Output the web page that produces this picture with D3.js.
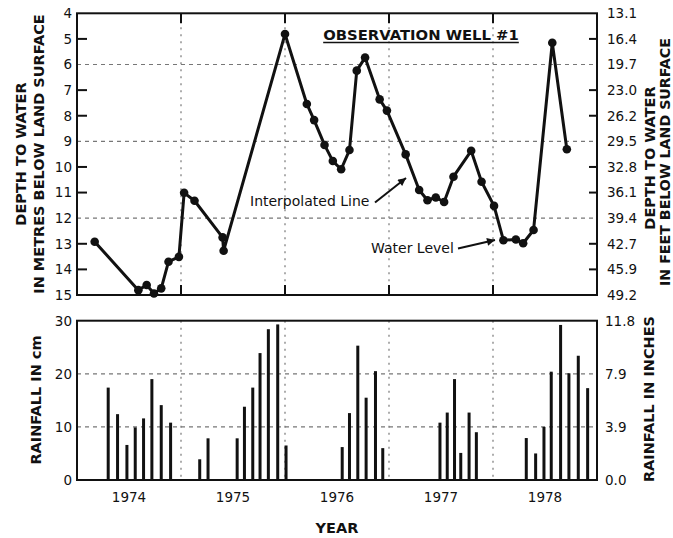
<!DOCTYPE html>
<html>
<head>
<meta charset="utf-8">
<script src="https://cdn.jsdelivr.net/npm/d3@7"></script>
<style>
  html, body { margin: 0; padding: 0; background: #fff; }
  text { font-family: "DejaVu Sans", Verdana, sans-serif; fill: #111; }
  .bold { font-weight: bold; }
</style>
</head>
<body>
<div id="chart"></div>
<script>
// year labels sit in the middle of each year
const yearLabels = ["1974", "1975", "1976", "1977", "1978"];
const yearBounds = [1975, 1976, 1977, 1978];

// well depth (metres below land surface)
const wellDate = [1974.17, 1974.59, 1974.67, 1974.74, 1974.81, 1974.88, 1974.98,
  1975.03, 1975.13, 1975.40, 1975.41, 1976.00, 1976.21, 1976.28, 1976.38,
  1976.46, 1976.54, 1976.62, 1976.69, 1976.77, 1976.91, 1976.98, 1977.16,
  1977.29, 1977.37, 1977.45, 1977.53, 1977.62, 1977.79, 1977.89, 1978.01,
  1978.10, 1978.22, 1978.29, 1978.39, 1978.57, 1978.71];
const wellDepth = [12.92, 14.81, 14.61, 14.94, 14.74, 13.70, 13.51,
  11.01, 11.32, 12.75, 13.27, 4.81, 7.54, 8.17, 9.14,
  9.77, 10.09, 9.34, 6.24, 5.73, 7.36, 7.80, 9.51,
  10.90, 11.30, 11.19, 11.37, 10.38, 9.37, 10.58, 11.52,
  12.86, 12.83, 12.98, 12.46, 5.15, 9.31];

// monthly rainfall (cm)
const rainDate = [1974.30, 1974.39, 1974.48, 1974.56, 1974.64, 1974.72, 1974.81, 1974.90,
  1975.18, 1975.26, 1975.54, 1975.61, 1975.69, 1975.76, 1975.84, 1975.93, 1976.01,
  1976.55, 1976.62, 1976.70, 1976.78, 1976.87, 1976.94,
  1977.49, 1977.56, 1977.63, 1977.69, 1977.77, 1977.84,
  1978.32, 1978.41, 1978.49, 1978.56, 1978.65, 1978.73, 1978.82, 1978.91];
const rainCm = [17.4, 12.4, 6.6, 9.9, 11.6, 19.0, 14.1, 10.8,
  3.9, 7.85, 7.85, 13.8, 17.4, 23.9, 28.4, 29.3, 6.5,
  6.2, 12.6, 25.3, 15.5, 20.5, 6.0,
  10.8, 12.7, 19.0, 5.1, 12.7, 9.0,
  7.9, 5.0, 10.0, 20.4, 29.2, 20.1, 23.4, 17.3];

const depthTicks = [4, 5, 6, 7, 8, 9, 10, 11, 12, 13, 14, 15];
const feetLabels = ["13.1", "16.4", "19.7", "23.0", "26.2", "29.5", "32.8", "36.1", "39.4", "42.7", "45.9", "49.2"];
const depthGrid = [6, 9, 12];
const rainTicks = [0, 10, 20, 30];
const inchLabels = ["0.0", "3.9", "7.9", "11.8"];
const rainGrid = [10, 20];

const W = 673, H = 538;
const L = 77, R = 597;
const top1 = 13.3, bot1 = 295;
const top2 = 320.7, bot2 = 480;

const svg = d3.select("#chart").append("svg")
  .attr("width", W).attr("height", H);

const x = d3.scaleLinear().domain([1974, 1979]).range([L, R]);
const yDepth = d3.scaleLinear().domain([4, 15]).range([top1, bot1]);
const yRain = d3.scaleLinear().domain([0, 30]).range([bot2, top2]);

svg.append("defs").append("marker")
  .attr("id", "arrow")
  .attr("viewBox", "0 0 10 10")
  .attr("refX", 10).attr("refY", 5)
  .attr("markerWidth", 12).attr("markerHeight", 8)
  .attr("markerUnits", "userSpaceOnUse")
  .attr("orient", "auto")
  .append("path").attr("d", "M0,0 L10,5 L0,10 Z").attr("fill", "#111");

/* ---------- well level panel ---------- */
let g1 = svg.append("g");

// gridlines
g1.selectAll(".hgrid").data(depthGrid).enter().append("line")
  .attr("x1", L).attr("x2", R)
  .attr("y1", d => yDepth(d)).attr("y2", d => yDepth(d))
  .attr("stroke", "#777").attr("stroke-width", 1.2)
  .attr("stroke-dasharray", "4,4");
g1.selectAll(".vgrid").data(yearBounds).enter().append("line")
  .attr("x1", d => x(d)).attr("x2", d => x(d))
  .attr("y1", top1).attr("y2", bot1)
  .attr("stroke", "#777").attr("stroke-width", 1.2)
  .attr("stroke-dasharray", "2,5");

// inner ticks, left and right
let tickDepths = depthTicks.filter(d => !depthGrid.includes(d) && d !== 4 && d !== 15);
g1.selectAll(".tl").data(tickDepths).enter().append("line")
  .attr("x1", L).attr("x2", L + 10)
  .attr("y1", d => yDepth(d)).attr("y2", d => yDepth(d))
  .attr("stroke", "#111").attr("stroke-width", 2);
g1.selectAll(".tr").data(tickDepths).enter().append("line")
  .attr("x1", R - 8).attr("x2", R)
  .attr("y1", d => yDepth(d)).attr("y2", d => yDepth(d))
  .attr("stroke", "#111").attr("stroke-width", 2);
// year ticks on top and bottom edges
g1.selectAll(".tt").data(yearBounds).enter().append("line")
  .attr("x1", d => x(d)).attr("x2", d => x(d))
  .attr("y1", top1).attr("y2", top1 + 10)
  .attr("stroke", "#111").attr("stroke-width", 2);
g1.selectAll(".tb").data(yearBounds).enter().append("line")
  .attr("x1", d => x(d)).attr("x2", d => x(d))
  .attr("y1", bot1 - 10).attr("y2", bot1)
  .attr("stroke", "#111").attr("stroke-width", 2);

g1.append("rect")
  .attr("x", L).attr("y", top1)
  .attr("width", R - L).attr("height", bot1 - top1)
  .attr("fill", "none").attr("stroke", "#111").attr("stroke-width", 2);

// tick labels
g1.selectAll(".ll").data(depthTicks).enter().append("text")
  .attr("x", L - 5).attr("y", d => yDepth(d)).attr("dy", "0.36em")
  .attr("text-anchor", "end").style("font-size", "13.5px")
  .text(d => d);
g1.selectAll(".rl").data(depthTicks).enter().append("text")
  .attr("x", R + 10).attr("y", d => yDepth(d)).attr("dy", "0.36em")
  .style("font-size", "13.5px")
  .text((d, i) => feetLabels[i]);

// the line and points
let pts = wellDate.map((d, i) => [d, wellDepth[i]]);
g1.append("path").datum(pts)
  .attr("d", d3.line().x(d => x(d[0])).y(d => yDepth(d[1])))
  .attr("fill", "none").attr("stroke", "#111")
  .attr("stroke-width", 3).attr("stroke-linejoin", "round");
g1.selectAll(".pt").data(pts).enter().append("circle")
  .attr("cx", d => x(d[0])).attr("cy", d => yDepth(d[1]))
  .attr("r", 4.3).attr("fill", "#111");

// title
let title = g1.append("text").attr("class", "bold")
  .attr("x", 421).attr("y", 39.5).attr("text-anchor", "middle")
  .style("font-size", "14.8px").text("OBSERVATION WELL #1");
let tw = title.node().getComputedTextLength();
g1.append("line")
  .attr("x1", 421 - tw / 2).attr("x2", 421 + tw / 2)
  .attr("y1", 42.5).attr("y2", 42.5)
  .attr("stroke", "#111").attr("stroke-width", 1.5);

// annotations
g1.append("text").attr("x", 250).attr("y", 206)
  .style("font-size", "14px").text("Interpolated Line");
g1.append("line")
  .attr("x1", 375).attr("y1", 202.5).attr("x2", 406).attr("y2", 178)
  .attr("stroke", "#111").attr("stroke-width", 2)
  .attr("marker-end", "url(#arrow)");
g1.append("text").attr("x", 371).attr("y", 253)
  .style("font-size", "14px").text("Water Level");
g1.append("line")
  .attr("x1", 458).attr("y1", 248.5).attr("x2", 495).attr("y2", 240)
  .attr("stroke", "#111").attr("stroke-width", 2)
  .attr("marker-end", "url(#arrow)");

/* ---------- rainfall panel ---------- */
let g2 = svg.append("g");

g2.selectAll(".hgrid").data(rainGrid).enter().append("line")
  .attr("x1", L).attr("x2", R)
  .attr("y1", d => yRain(d)).attr("y2", d => yRain(d))
  .attr("stroke", "#777").attr("stroke-width", 1.2)
  .attr("stroke-dasharray", "4,4");
g2.selectAll(".vgrid").data(yearBounds).enter().append("line")
  .attr("x1", d => x(d)).attr("x2", d => x(d))
  .attr("y1", top2).attr("y2", bot2)
  .attr("stroke", "#777").attr("stroke-width", 1.2)
  .attr("stroke-dasharray", "2,5");

g2.selectAll(".bar").data(rainDate).enter().append("rect")
  .attr("x", d => x(d) - 1.5).attr("width", 3)
  .attr("y", (d, i) => yRain(rainCm[i]))
  .attr("height", (d, i) => bot2 - yRain(rainCm[i]))
  .attr("fill", "#111");

g2.append("rect")
  .attr("x", L).attr("y", top2)
  .attr("width", R - L).attr("height", bot2 - top2)
  .attr("fill", "none").attr("stroke", "#111").attr("stroke-width", 2);

g2.selectAll(".ll").data(rainTicks).enter().append("text")
  .attr("x", L - 5).attr("y", d => yRain(d)).attr("dy", "0.36em")
  .attr("text-anchor", "end").style("font-size", "13.5px")
  .text(d => d);
g2.selectAll(".rl").data(rainTicks).enter().append("text")
  .attr("x", R + 8).attr("y", d => yRain(d)).attr("dy", "0.36em")
  .style("font-size", "13.5px")
  .text((d, i) => inchLabels[i]);

g2.selectAll(".yl").data(yearLabels).enter().append("text")
  .attr("x", d => x(+d + 0.5)).attr("y", 502)
  .attr("text-anchor", "middle").style("font-size", "13.5px")
  .text(d => d);

/* ---------- axis titles ---------- */
function vTitle(cx, cy, txt, size) {
  svg.append("text").attr("class", "bold")
    .attr("transform", "translate(" + cx + "," + cy + ") rotate(-90)")
    .attr("text-anchor", "middle").attr("dy", "0.36em")
    .style("font-size", (size || 14.5) + "px").text(txt);
}
vTitle(21, 154, "DEPTH TO WATER");
vTitle(39, 154, "IN METRES BELOW LAND SURFACE");
vTitle(650, 158, "DEPTH TO WATER");
vTitle(664.5, 162, "IN FEET BELOW LAND SURFACE", 14.2);
vTitle(36, 400, "RAINFALL IN cm");
vTitle(649, 399, "RAINFALL IN INCHES");

svg.append("text").attr("class", "bold")
  .attr("x", 337).attr("y", 533).attr("text-anchor", "middle")
  .style("font-size", "14.5px").text("YEAR");
</script>
</body>
</html>
